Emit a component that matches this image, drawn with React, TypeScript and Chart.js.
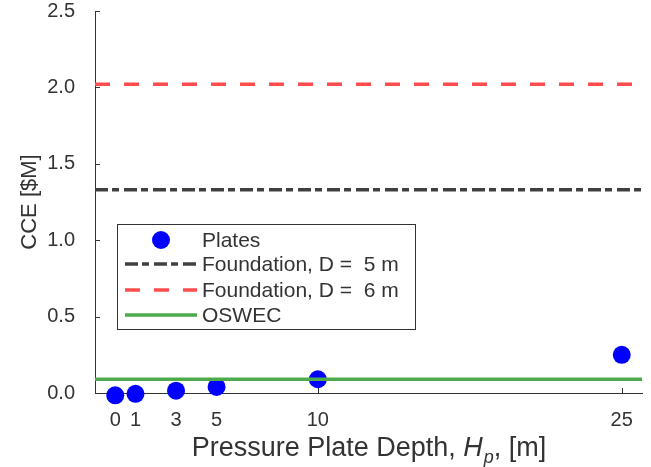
import { useEffect, useRef } from "react";
import { Chart, registerables } from "chart.js";

Chart.register(...registerables);

// ---- data ----
const depths = [0, 1, 3, 5, 10, 25];
const plateCCE = [-0.015, -0.005, 0.015, 0.04, 0.09, 0.25];
const foundation5CCE = 1.33;
const foundation6CCE = 2.02;
const oswecCCE = 0.09;
const xRange = [-1, 26];
const yRange = [0, 2.5];
const xTicks = [0, 1, 3, 5, 10, 25];
const yTicks = [0, 0.5, 1.0, 1.5, 2.0, 2.5];
const legendLabels = ["Plates", "Foundation, D =  5 m", "Foundation, D =  6 m", "OSWEC"];
const yTitle = "CCE [$M]";
const xTitleParts = ["Pressure Plate Depth, ", "H", "p", ", [m]"];

// ---- styles ----
const FONT = '"Liberation Sans", Arial, Helvetica, sans-serif';
const AXIS = "#333333";
const TEXT = "#333333";
const BLUE = "#0000ff";
const GRAY = "#404040";
const RED = "#ff4d4d";
const GREEN = "#4daa4d";
const DASH_DOT = [13, 4, 7, 5];
const DASHED = [15, 14];

const overlay = {
  id: "overlay",
  beforeDatasetsDraw(chart: any) {
    const ctx = chart.ctx;
    const { left, bottom } = chart.chartArea;
    const xs = chart.scales.x;
    const ys = chart.scales.y;
    ctx.save();
    ctx.strokeStyle = AXIS;
    ctx.lineWidth = 1;
    xTicks.forEach((v) => {
      const px = Math.round(xs.getPixelForValue(v)) + 0.5;
      ctx.beginPath();
      ctx.moveTo(px, bottom);
      ctx.lineTo(px, bottom - 5);
      ctx.stroke();
    });
    yTicks.forEach((v) => {
      const py = Math.round(ys.getPixelForValue(v)) + 0.5;
      ctx.beginPath();
      ctx.moveTo(left, py);
      ctx.lineTo(left + 5, py);
      ctx.stroke();
    });
    ctx.restore();
  },
  afterDraw(chart: any) {
    const ctx = chart.ctx;
    const { left, right, top, bottom } = chart.chartArea;
    ctx.save();
    ctx.fillStyle = TEXT;

    // y title
    ctx.save();
    ctx.translate(30, (top + bottom) / 2);
    ctx.rotate(-Math.PI / 2);
    ctx.font = `22px ${FONT}`;
    ctx.textAlign = "center";
    ctx.textBaseline = "middle";
    ctx.fillText(yTitle, 0, 0);
    ctx.restore();

    // x title with italic H and subscript p
    const fNorm = `27px ${FONT}`;
    const fItal = `italic 27px ${FONT}`;
    const fSub = `italic 18px ${FONT}`;
    const fonts = [fNorm, fItal, fSub, fNorm];
    const widths = xTitleParts.map((t, i) => {
      ctx.font = fonts[i];
      return ctx.measureText(t).width;
    });
    const total = widths.reduce((a, b) => a + b, 0);
    let cx = (left + right) / 2 - total / 2;
    const base = 456;
    ctx.textAlign = "left";
    ctx.textBaseline = "alphabetic";
    xTitleParts.forEach((t, i) => {
      ctx.font = fonts[i];
      ctx.fillText(t, cx, i === 2 ? base + 7 : base);
      cx += widths[i] + (i === 1 ? 1 : 0);
    });

    // legend
    const bx = 117, by = 224, bw = 298, bh = 105;
    ctx.fillStyle = "#ffffff";
    ctx.fillRect(bx, by, bw, bh);
    ctx.strokeStyle = AXIS;
    ctx.lineWidth = 1;
    ctx.strokeRect(bx + 0.5, by + 0.5, bw, bh);
    const rows = [240, 264, 290, 315];
    const x0 = 125, x1 = 197, tx = 202;
    ctx.lineCap = "butt";
    ctx.fillStyle = BLUE;
    ctx.beginPath();
    ctx.arc((x0 + x1) / 2, rows[0], 9, 0, Math.PI * 2);
    ctx.fill();
    const drawSample = (y: number, color: string, dash: number[]) => {
      ctx.strokeStyle = color;
      ctx.lineWidth = 3.5;
      ctx.setLineDash(dash);
      ctx.beginPath();
      ctx.moveTo(x0, y);
      ctx.lineTo(x1, y);
      ctx.stroke();
      ctx.setLineDash([]);
    };
    drawSample(rows[1], GRAY, DASH_DOT);
    drawSample(rows[2], RED, DASHED);
    drawSample(rows[3], GREEN, []);
    ctx.fillStyle = TEXT;
    ctx.font = `21px ${FONT}`;
    ctx.textBaseline = "middle";
    legendLabels.forEach((l, i) => ctx.fillText(l, tx, rows[i] + 1));
    ctx.restore();
  },
};

function hLine(v: number) {
  return [
    { x: xRange[0], y: v },
    { x: xRange[1], y: v },
  ];
}

export default function App() {
  const ref = useRef<HTMLCanvasElement>(null);
  useEffect(() => {
    if (!ref.current) return;
    const chart = new Chart(ref.current, {
      type: "scatter",
      data: {
        datasets: [
          {
            label: legendLabels[3],
            data: hLine(oswecCCE),
            showLine: true,
            borderColor: GREEN,
            borderWidth: 3.5,
            pointRadius: 0,
            order: 0,
          },
          {
            label: legendLabels[0],
            data: depths.map((d, i) => ({ x: d, y: plateCCE[i] })),
            showLine: false,
            backgroundColor: BLUE,
            borderColor: BLUE,
            pointRadius: 9,
            pointBorderWidth: 0,
            clip: false as any,
            order: 1,
          },
          {
            label: legendLabels[1],
            data: hLine(foundation5CCE),
            showLine: true,
            borderColor: GRAY,
            borderWidth: 3.5,
            borderDash: DASH_DOT,
            pointRadius: 0,
            order: 2,
          },
          {
            label: legendLabels[2],
            data: hLine(foundation6CCE),
            showLine: true,
            borderColor: RED,
            borderWidth: 3.5,
            borderDash: DASHED,
            pointRadius: 0,
            order: 3,
          },
        ],
      },
      options: {
        responsive: false,
        animation: false,
        events: [],
        layout: { padding: { top: 11, right: 8, left: 0, bottom: 0 } },
        plugins: { legend: { display: false }, tooltip: { enabled: false } },
        scales: {
          x: {
            type: "linear",
            min: xRange[0],
            max: xRange[1],
            grid: { display: false },
            border: { display: true, color: AXIS, width: 1 },
            ticks: {
              font: { family: FONT, size: 20 },
              color: TEXT,
              padding: 7,
              maxRotation: 0,
              autoSkip: false,
              callback: (v: any) => String(v),
            },
            afterBuildTicks: (axis: any) => {
              axis.ticks = xTicks.map((v) => ({ value: v }));
            },
            afterFit: (s: any) => {
              s.height = 74;
              s.paddingLeft = 0;
              s.paddingRight = 0;
            },
          },
          y: {
            type: "linear",
            min: yRange[0],
            max: yRange[1],
            grid: { display: false },
            border: { display: true, color: AXIS, width: 1 },
            ticks: {
              font: { family: FONT, size: 20 },
              color: TEXT,
              padding: 12,
              autoSkip: false,
              callback: (v: any) => Number(v).toFixed(1),
            },
            afterBuildTicks: (axis: any) => {
              axis.ticks = yTicks.map((v) => ({ value: v }));
            },
            afterFit: (s: any) => {
              s.width = 95;
              s.paddingTop = 0;
              s.paddingBottom = 0;
            },
          },
        },
      },
      plugins: [overlay],
    });
    return () => chart.destroy();
  }, []);
  return (
    <div style={{ position: "absolute", left: 0, top: 0, width: 651, height: 467, background: "#fff" }}>
      <canvas ref={ref} width={651} height={467} style={{ width: 651, height: 467 }} />
    </div>
  );
}
